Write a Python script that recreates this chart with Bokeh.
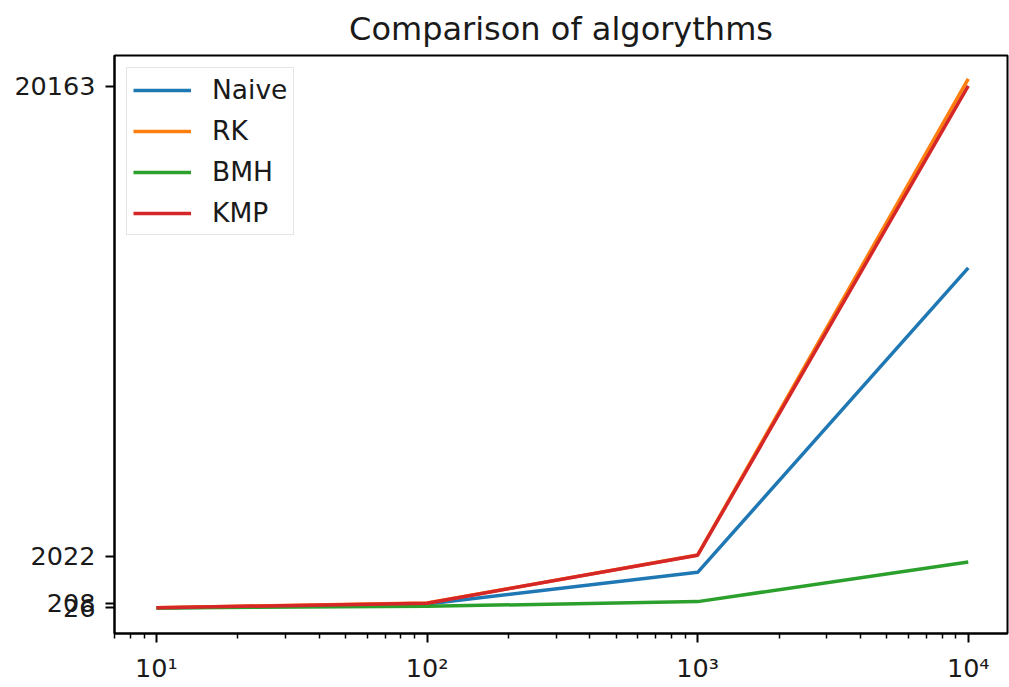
import numpy as np
from bokeh.plotting import figure
from bokeh.models import Range1d, FixedTicker, Legend, LegendItem
from bokeh.embed import file_html
from bokeh.resources import INLINE

# Input sizes (log x axis)
sizes = [10, 100, 1000, 10000]

# Measured cost for each string-search algorithm
naive = [28, 180, 1400, 13150]
rk = [30, 215, 2070, 20450]
bmh = [25, 90, 270, 1800]
kmp = [30, 210, 2060, 20180]

series_names = ["Naive", "RK", "BMH", "KMP"]
series_values = [naive, rk, bmh, kmp]
series_colors = ["#1f77b4", "#ff7f0e", "#2ca02c", "#d62728"]

# Y ticks shown on the axis
y_ticks = [26, 208, 2022, 20163]
x_tick_labels = {10: "10\u00b9", 100: "10\u00b2", 1000: "10\u00b3", 10000: "10\u2074"}

FONT = "DejaVu Sans"

p = figure(
    width=1009, height=687,
    x_axis_type="log",
    x_range=Range1d(10 ** 0.845, 10 ** 4.145),
    y_range=Range1d(-961, 21349),
    output_backend="svg",
    toolbar_location=None,
    min_border_left=114, min_border_right=2,
    min_border_top=55, min_border_bottom=54,
    title="Comparison of algorythms",
)
p.background_fill_color = "white"
p.border_fill_color = "white"

p.title.align = "center"
p.title.text_font = FONT
p.title.text_font_style = "normal"
p.title.text_font_size = "32px"
p.title.text_color = "#1a1a1a"
p.title.standoff = 15

p.grid.visible = False
p.outline_line_color = "black"
p.outline_line_width = 2

# Log x axis with 2..9 minor ticks in every decade
minor = [k * d for d in [1, 10, 100, 1000, 10000] for k in range(2, 10)]
p.xaxis.ticker = FixedTicker(ticks=sizes, minor_ticks=minor)
p.xaxis.major_label_overrides = {float(k): v for k, v in x_tick_labels.items()}
p.yaxis.ticker = FixedTicker(ticks=y_ticks, minor_ticks=[])
p.yaxis.major_label_overrides = {float(t): str(t) for t in y_ticks}

for ax in (p.xaxis[0], p.yaxis[0]):
    ax.axis_line_color = "black"
    ax.axis_line_width = 2
    ax.major_tick_line_color = "black"
    ax.major_tick_line_width = 2
    ax.major_tick_out = 9
    ax.major_tick_in = 0
    ax.minor_tick_line_color = "black"
    ax.minor_tick_line_width = 1.5
    ax.minor_tick_out = 5
    ax.minor_tick_in = 0
    ax.major_label_text_font = FONT
    ax.major_label_text_font_size = "25.5px"
    ax.major_label_text_color = "#1a1a1a"
p.xaxis.major_label_standoff = 10
p.yaxis.major_label_standoff = 10

items = []
for name, vals, color in zip(series_names, series_values, series_colors):
    r = p.line(sizes, vals, line_color=color, line_width=3.5)
    items.append(LegendItem(label=name, renderers=[r]))

legend = Legend(
    items=items,
    location="top_left",
    margin=12,
    padding=6,
    spacing=10,
    glyph_width=58,
    glyph_height=28,
    label_height=28,
    label_standoff=21,
    label_text_font=FONT,
    label_text_font_size="26.5px",
    label_text_color="#1a1a1a",
    border_line_color="#cccccc",
    border_line_width=1.5,
    background_fill_alpha=0.8,
)
p.add_layout(legend)

open("out.html", "w").write(file_html(p, INLINE))
